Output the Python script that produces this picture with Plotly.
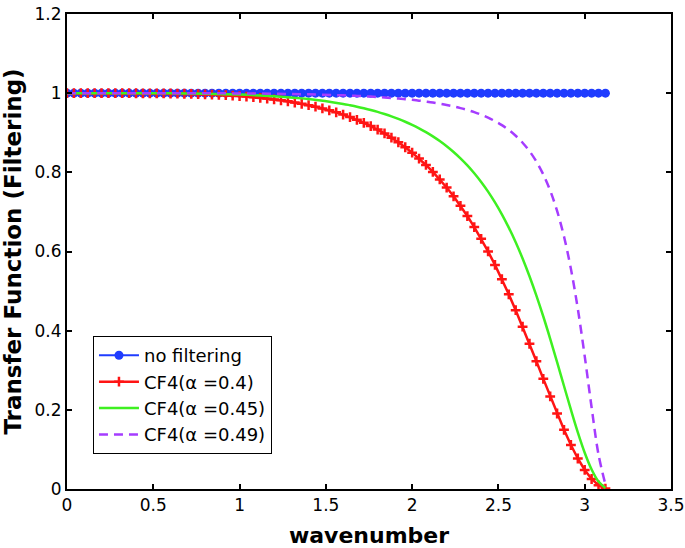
import plotly.graph_objects as go

# wavenumber grid (step 0.04) used by the marked series
x_fine = [round(0.04 * i, 2) for i in range(79)]
# grid used by the unmarked curves
x_curve = [0.0, 0.2, 0.4, 0.6, 0.8, 1.0, 1.2, 1.4, 1.6, 1.64, 1.68, 1.72, 1.76, 1.80,
           1.84, 1.88, 1.92, 1.96, 2.00, 2.04, 2.08, 2.12, 2.16, 2.20, 2.24, 2.28,
           2.32, 2.36, 2.40, 2.44, 2.48, 2.52, 2.56, 2.60, 2.64, 2.68, 2.72, 2.76,
           2.80, 2.84, 2.88, 2.92, 2.96, 3.00, 3.04, 3.08, 3.12]

no_filtering = [1.0] * 79

cf4_040 = [1.0000, 1.0000, 1.0000, 1.0000, 1.0000, 1.0000, 1.0000, 1.0000, 0.9999, 0.9999,
           0.9998, 0.9997, 0.9996, 0.9995, 0.9993, 0.9991, 0.9988, 0.9985, 0.9981, 0.9976,
           0.9970, 0.9964, 0.9956, 0.9948, 0.9938, 0.9926, 0.9913, 0.9899, 0.9882, 0.9863,
           0.9842, 0.9819, 0.9793, 0.9764, 0.9732, 0.9697, 0.9658, 0.9615, 0.9567, 0.9515,
           0.9458, 0.9395, 0.9326, 0.9251, 0.9169, 0.9080, 0.8982, 0.8876, 0.8760, 0.8634,
           0.8497, 0.8348, 0.8186, 0.8011, 0.7821, 0.7616, 0.7394, 0.7154, 0.6896, 0.6618,
           0.6320, 0.6001, 0.5661, 0.5300, 0.4919, 0.4518, 0.4101, 0.3670, 0.3228, 0.2783,
           0.2340, 0.1907, 0.1495, 0.1112, 0.0771, 0.0481, 0.0253, 0.0094, 0.0012]

cf4_045 = [1.0, 1.0, 0.9999, 0.9996, 0.9986, 0.9965, 0.9923, 0.9851, 0.9728, 0.9695,
           0.9659, 0.9619, 0.9575, 0.9527, 0.9473, 0.9414, 0.9349, 0.9278, 0.9198, 0.9111,
           0.9015, 0.8908, 0.8790, 0.8659, 0.8514, 0.8353, 0.8175, 0.7976, 0.7756, 0.7512,
           0.7240, 0.6938, 0.6603, 0.6233, 0.5824, 0.5375, 0.4886, 0.4358, 0.3795, 0.3206,
           0.2602, 0.2003, 0.1432, 0.0917, 0.0493, 0.0187, 0.0023]

cf4_049 = [1.0, 1.0, 1.0, 0.9999, 0.9997, 0.9993, 0.9985, 0.9971, 0.9945, 0.9939,
           0.9931, 0.9923, 0.9913, 0.9903, 0.9892, 0.9879, 0.9864, 0.9849, 0.9831, 0.9811,
           0.9788, 0.9763, 0.9734, 0.9702, 0.9665, 0.9623, 0.9575, 0.9520, 0.9456, 0.9381,
           0.9294, 0.9192, 0.9070, 0.8924, 0.8748, 0.8534, 0.8272, 0.7946, 0.7538, 0.7025,
           0.6377, 0.5561, 0.4552, 0.3358, 0.2059, 0.0869, 0.0115]

x_ticks = [0, 0.5, 1, 1.5, 2, 2.5, 3, 3.5]
x_tick_text = ["0", "0.5", "1", "1.5", "2", "2.5", "3", "3.5"]
y_ticks = [0, 0.2, 0.4, 0.6, 0.8, 1.0, 1.2]
y_tick_text = ["0", "0.2", "0.4", "0.6", "0.8", "1", "1.2"]

names = ["no filtering", "CF4(α =0.4)", "CF4(α =0.45)", "CF4(α =0.49)"]

fig = go.Figure()
fig.add_trace(go.Scatter(x=x_fine, y=no_filtering, name=names[0], mode="lines+markers",
                         line=dict(color="#1f3cff", width=2),
                         marker=dict(symbol="circle", size=9, color="#1f3cff")))
fig.add_trace(go.Scatter(x=x_fine, y=cf4_040, name=names[1], mode="lines+markers",
                         line=dict(color="#ff1414", width=2.5),
                         marker=dict(symbol="cross-thin", size=7,
                                     line=dict(color="#ff1414", width=2.5))))
fig.add_trace(go.Scatter(x=x_curve, y=cf4_045, name=names[2], mode="lines",
                         line=dict(color="#3ef021", width=2.5, shape="spline")))
fig.add_trace(go.Scatter(x=x_curve, y=cf4_049, name=names[3], mode="lines",
                         line=dict(color="#a53cff", width=2.5, dash="9px,6px", shape="spline")))

axis_common = dict(showline=True, linecolor="black", linewidth=2, mirror="ticks",
                   ticks="inside", ticklen=5, tickwidth=1.5, tickcolor="black",
                   showgrid=False, zeroline=False, automargin=False,
                   tickfont=dict(family="DejaVu Sans", size=17, color="black"))

fig.update_xaxes(range=[0, 3.5], tickvals=x_ticks, ticktext=x_tick_text,
                 title=dict(text="<b>wavenumber</b>",
                            font=dict(family="DejaVu Sans", size=22, color="black")),
                 **axis_common)
fig.update_yaxes(range=[0, 1.2], tickvals=y_ticks, ticktext=y_tick_text,
                 title=dict(text="<b>Transfer Function (Filtering)</b>",
                            font=dict(family="DejaVu Sans", size=23, color="black")),
                 **axis_common)

fig.update_layout(
    width=685, height=548,
    margin=dict(l=67, r=14, t=14, b=59),
    paper_bgcolor="white", plot_bgcolor="white",
    font=dict(family="DejaVu Sans", color="black"),
    legend=dict(x=0.043, y=0.322, xanchor="left", yanchor="top",
                bgcolor="white", bordercolor="black", borderwidth=1,
                font=dict(family="DejaVu Sans", size=18, color="black"),
                itemwidth=40, tracegroupgap=0),
    showlegend=True,
)

fig.write_html("out.html", config={"displayModeBar": False},
               post_script="document.body.style.margin='0';document.body.style.overflow='hidden';")
